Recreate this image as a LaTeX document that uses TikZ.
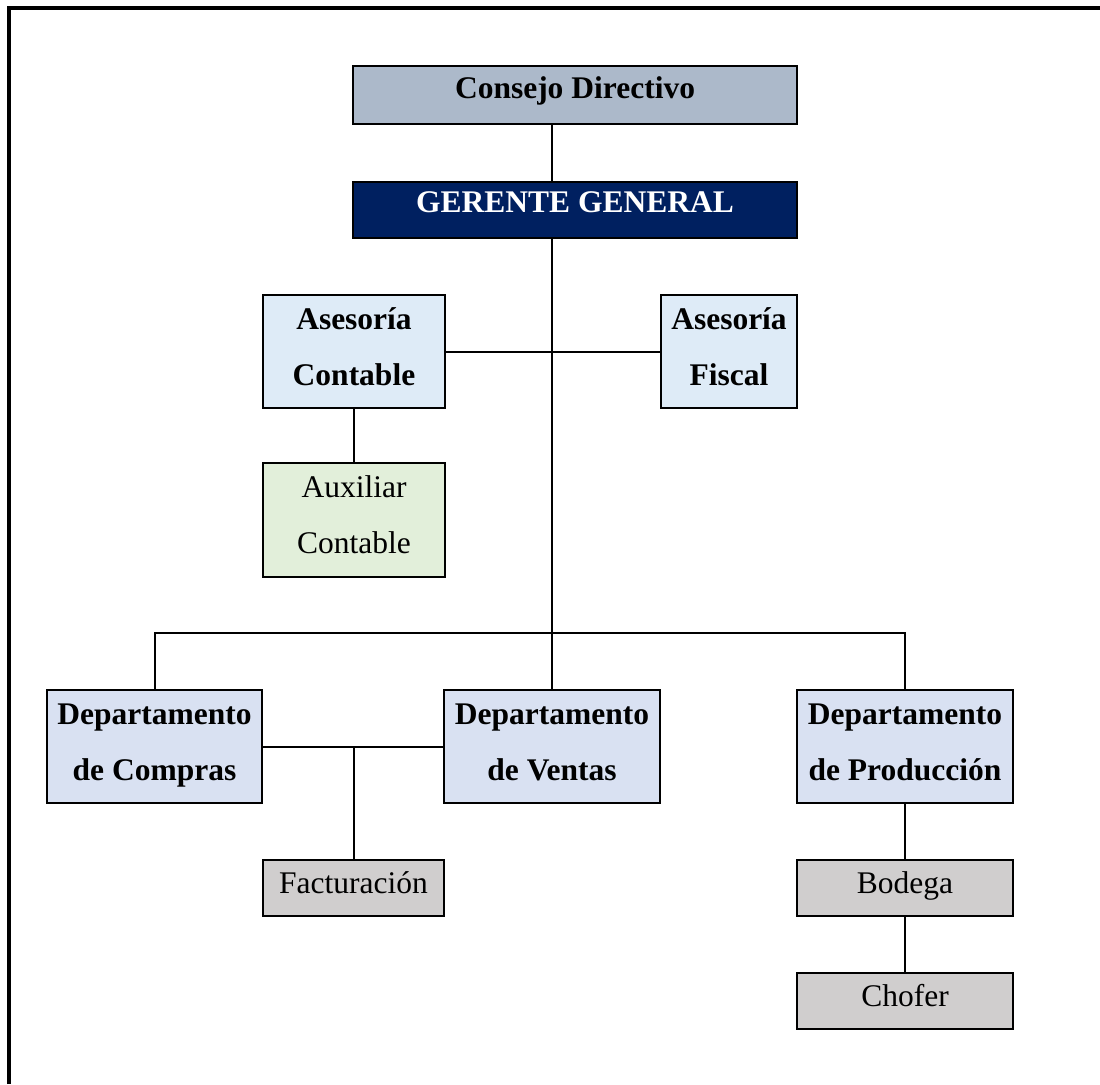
\documentclass[tikz,border=0pt]{standalone}
\usepackage{fontspec}
\setmainfont{Liberation Serif}
\definecolor{cdc}{HTML}{ACB9CA}
\definecolor{ggc}{HTML}{002060}
\definecolor{asc}{HTML}{DEEBF7}
\definecolor{auxc}{HTML}{E2EFDA}
\definecolor{depc}{HTML}{D9E1F2}
\definecolor{grc}{HTML}{D0CECE}
\begin{document}
\begin{tikzpicture}[x=1pt,y=-1pt,
  box/.style={draw=black, line width=2.6pt, rectangle, inner sep=0pt},
  conn/.style={draw=black, line width=2pt},
  lblb/.style={anchor=base, inner sep=0pt, font=\fontsize{31.5pt}{36pt}\selectfont\bfseries},
  lbln/.style={anchor=base, inner sep=0pt, font=\fontsize{31.5pt}{36pt}\selectfont}]
\useasboundingbox (0,0) rectangle (1100,1084);
\draw[line width=4pt] (9,1084) -- (9,8) -- (1100,8);

% boxes
\node[box, fill=cdc, minimum width=444pt, minimum height=58pt] (cd) at (575,95) {};
\node[box, fill=ggc, minimum width=444pt, minimum height=56pt] (gg) at (575,210) {};
\node[box, fill=asc, minimum width=182pt, minimum height=113pt] (ac) at (354,351.5) {};
\node[box, fill=asc, minimum width=136pt, minimum height=113pt] (af) at (729,351.5) {};
\node[box, fill=auxc, minimum width=182pt, minimum height=114pt] (aux) at (354,520) {};
\node[box, fill=depc, minimum width=215pt, minimum height=113pt] (dc) at (154.5,746.5) {};
\node[box, fill=depc, minimum width=216pt, minimum height=113pt] (dv) at (552,746.5) {};
\node[box, fill=depc, minimum width=216pt, minimum height=113pt] (dp) at (905,746.5) {};
\node[box, fill=grc, minimum width=181pt, minimum height=56pt] (fac) at (353.5,888) {};
\node[box, fill=grc, minimum width=216pt, minimum height=56pt] (bod) at (905,888) {};
\node[box, fill=grc, minimum width=216pt, minimum height=56pt] (cho) at (905,1001) {};

% texts
\node[lblb] (cdt) at (575,98) {Consejo Directivo};
\node[lblb, text=white] (ggt) at (575,212) {GERENTE GENERAL};
\node[lblb] (act1) at (354,329) {Asesoría};
\node[lblb] (act2) at (354,385) {Contable};
\node[lblb] (aft1) at (729,329) {Asesoría};
\node[lblb] (aft2) at (729,385) {Fiscal};
\node[lbln] (auxt1) at (354,497) {Auxiliar};
\node[lbln] (auxt2) at (354,553) {Contable};
\node[lblb] (dct1) at (154.5,724) {Departamento};
\node[lblb] (dct2) at (154.5,780) {de Compras};
\node[lblb] (dvt1) at (552,724) {Departamento};
\node[lblb] (dvt2) at (552,780) {de Ventas};
\node[lblb] (dpt1) at (905,724) {Departamento};
\node[lblb] (dpt2) at (905,780) {de Producción};
\node[lbln] (fact) at (353.5,893) {Facturación};
\node[lbln] (bodt) at (905,893) {Bodega};
\node[lbln] (chot) at (905,1006) {Chofer};

% connectors
\coordinate (tk) at (552,633);
\draw[conn] (cd.south -| tk) -- (gg.north -| tk);
\draw[conn] (gg.south -| tk) -- (dv.north);
\draw[conn] (ac.east) -- (af.west);
\draw[conn] (ac.south) -- (aux.north);
\draw[conn] (dc.north) -- (dc.north |- tk) -- (dp.north |- tk) -- (dp.north);
\draw[conn] (dc.east) -- (dv.west);
\draw[conn] (fac.north) -- (fac.north |- dc.east);
\draw[conn] (dp.south) -- (bod.north);
\draw[conn] (bod.south) -- (cho.north);
\end{tikzpicture}
\end{document}
